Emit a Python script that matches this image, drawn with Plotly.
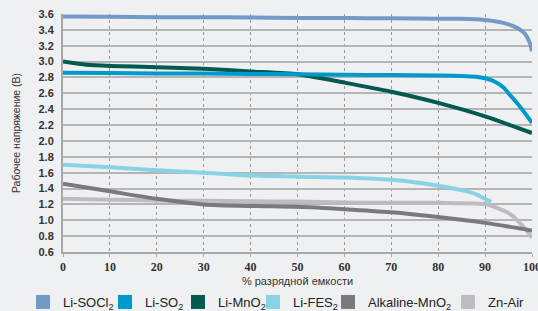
import plotly.graph_objects as go

x_socl2 = [0, 10, 20, 30, 40, 50, 60, 70, 80, 85, 90, 93, 95, 97, 98.5, 99.5, 100]
y_socl2 = [3.57, 3.565, 3.56, 3.56, 3.555, 3.55, 3.55, 3.545, 3.54, 3.54, 3.525, 3.5, 3.47, 3.42, 3.35, 3.24, 3.13]

x_so2 = [0, 10, 20, 30, 40, 50, 60, 70, 80, 85, 88, 90, 92, 94, 95, 96.5, 98, 99, 100]
y_so2 = [2.86, 2.855, 2.85, 2.85, 2.845, 2.84, 2.835, 2.83, 2.825, 2.82, 2.81, 2.79, 2.75, 2.67, 2.6, 2.5, 2.39, 2.31, 2.23]

x_mno2 = [0, 5, 10, 20, 30, 40, 50, 60, 70, 80, 90, 100]
y_mno2 = [3.0, 2.96, 2.945, 2.93, 2.91, 2.875, 2.84, 2.735, 2.62, 2.48, 2.31, 2.1]

x_fes2 = [0, 10, 20, 30, 40, 50, 60, 70, 75, 80, 85, 88, 91.3]
y_fes2 = [1.70, 1.667, 1.63, 1.60, 1.565, 1.55, 1.54, 1.51, 1.48, 1.436, 1.38, 1.33, 1.23]

x_alk = [0, 10, 20, 30, 40, 50, 60, 70, 80, 90, 100]
y_alk = [1.46, 1.365, 1.27, 1.20, 1.18, 1.17, 1.14, 1.10, 1.04, 0.967, 0.87]

x_zn = [0, 10, 20, 30, 40, 50, 60, 70, 80, 88, 90, 92, 94, 95, 96, 97, 98, 99, 100]
y_zn = [1.27, 1.26, 1.25, 1.245, 1.24, 1.235, 1.225, 1.22, 1.22, 1.21, 1.205, 1.17, 1.12, 1.09, 1.05, 0.99, 0.93, 0.86, 0.78]

names = ["Li-SOCl<sub>2</sub>", "Li-SO<sub>2</sub>", "Li-MnO<sub>2</sub>", "Li-FES<sub>2</sub>",
         "Alkaline-MnO<sub>2</sub>", "Zn-Air"]
colors = ["#7399c6", "#0099cc", "#005a50", "#88d3e3", "#7a7a7e", "#bdbdbf"]
series = [(x_socl2, y_socl2), (x_so2, y_so2), (x_mno2, y_mno2), (x_fes2, y_fes2),
          (x_alk, y_alk), (x_zn, y_zn)]

x_ticks = [0, 10, 20, 30, 40, 50, 60, 70, 80, 90, 100]
y_ticks = [0.6, 0.8, 1.0, 1.2, 1.4, 1.6, 1.8, 2.0, 2.2, 2.4, 2.6, 2.8, 3.0, 3.2, 3.4, 3.6]

# legend square centres (px, container coords)
legend_px = [45, 127, 200, 275, 350, 470]
W, H = 538, 311

fig = go.Figure()
order = [5, 4, 3, 2, 1, 0]
for i in order:
    xs, ys = series[i]
    fig.add_trace(go.Scatter(x=xs, y=ys, mode="lines",
                             line=dict(color=colors[i], width=4, shape="spline", smoothing=0.6),
                             showlegend=False, hoverinfo="skip"))

legend_layout = {}
for i in range(6):
    key = "legend" if i == 0 else f"legend{i+1}"
    fig.add_trace(go.Scatter(x=[None], y=[None], mode="markers", name=names[i],
                             legend=key,
                             marker=dict(symbol="square", size=14, color=colors[i])))
    legend_layout[key] = dict(
        orientation="h", xref="container", yref="container",
        x=(legend_px[i] - 22) / W, y=1 - 287 / H, xanchor="left", yanchor="top",
        font=dict(family="Liberation Sans", size=13, color="#222222"),
        itemwidth=30, bgcolor="rgba(0,0,0,0)", borderwidth=0)

fig.update_layout(
    width=W, height=H,
    margin=dict(l=63, r=6, t=14, b=58.5, pad=0, autoexpand=False),
    paper_bgcolor="#eff0f1", plot_bgcolor="#eff0f1",
    font=dict(family="Liberation Sans", color="#333333"),
    showlegend=True,
    **legend_layout,
)
fig.update_xaxes(range=[0, 100], tickvals=x_ticks, ticktext=[str(v) for v in x_ticks],
                 automargin=False, ticklabeloverflow="allow",
                 showgrid=True, gridcolor="#9a9a9a", griddash="dot", gridwidth=1,
                 showline=True, linecolor="#a8a8a8", linewidth=2, zeroline=False,
                 ticks="outside", ticklen=3, tickcolor="#a8a8a8",
                 tickfont=dict(family="Liberation Sans Narrow", size=12, color="#333333", weight="bold"),
                 title=dict(text="% разрядной емкости", font=dict(size=11, color="#333333"), standoff=14))
fig.update_yaxes(range=[0.6, 3.6], tickvals=y_ticks, ticktext=[f"{v:.1f}" for v in y_ticks],
                 automargin=False,
                 showgrid=True, gridcolor="#b5b5b5", gridwidth=1.5,
                 showline=True, linecolor="#a8a8a8", linewidth=2, zeroline=False,
                 ticks="", ticklabelstandoff=5,
                 tickfont=dict(family="Liberation Sans", size=11, color="#333333", weight="bold"),
                 title=dict(text="Рабочее напряжение (В)", font=dict(size=10.5, color="#333333"), standoff=16))

fig.write_html("out.html", config={"displayModeBar": False},
               post_script="document.body.style.margin='0';document.body.style.overflow='hidden';")
